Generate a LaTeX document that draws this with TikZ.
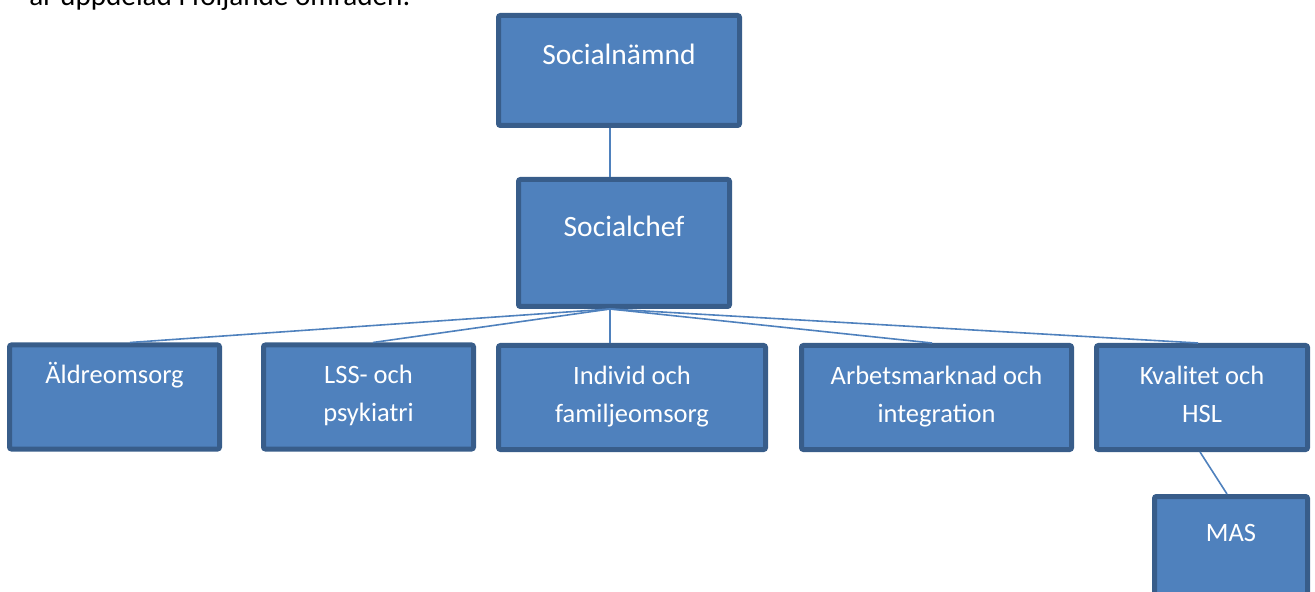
\documentclass[tikz,border=0pt]{standalone}
\usepackage{fontspec}
\setmainfont{Carlito}
\definecolor{boxfill}{HTML}{4F81BD}
\definecolor{boxline}{HTML}{385D8A}
% box text: width, height, first baseline, text
\newcommand{\orgtext}[4]{\parbox[c][#2][t]{#1}{\centering\rule{0pt}{#3}#4\par}}

\begin{document}
\begin{tikzpicture}[x=0.5pt,y=-0.5pt,
  orgbox/.style={draw=boxline, fill=boxfill, line width=2.5pt, rounded corners=1pt, inner sep=0pt, text=white},
  bigfont/.style={font=\fontsize{14.75}{19}\selectfont},
  smallfont/.style={font=\fontsize{13.25}{19}\selectfont},
  link/.style={draw=boxfill, line width=0.8pt}]

\useasboundingbox (0,0) rectangle (1315,592);
\clip (0,0) rectangle (1315,592);

% line of text above the chart
\node[anchor=base west, inner sep=0pt, font=\fontsize{14.6}{18}\selectfont] (intro) at (29,6) {är uppdelad i följande områden:};

% top of the chart
\node[orgbox, bigfont] (soc) at (619,70.5) {\orgtext{120.5pt}{55pt}{24.75pt}{Socialnämnd}};
\node[orgbox, bigfont] (chef) at (624,243) {\orgtext{105.5pt}{63.5pt}{28.75pt}{Socialchef}};

% the five areas
\node[orgbox, smallfont] (aldre) at (114.5,397) {\orgtext{105pt}{52pt}{19pt}{Äldreomsorg}};
\node[orgbox, smallfont] (lss) at (368.5,397) {\orgtext{105pt}{52pt}{19pt}{LSS- och\\psykiatri}};
\node[orgbox, smallfont] (indiv) at (632,397.5) {\orgtext{133.5pt}{52pt}{19.25pt}{Individ och\\familjeomsorg}};
\node[orgbox, smallfont] (arbets) at (936.5,397.5) {\orgtext{135pt}{52pt}{19.25pt}{Arbetsmarknad och\\integration}};
\node[orgbox, smallfont] (kval) at (1202,397.5) {\orgtext{105.5pt}{52pt}{19.25pt}{Kvalitet och\\HSL}};

% under Kvalitet och HSL
\node[orgbox, smallfont] (mas) at (1231,548.5) {\orgtext{76.5pt}{52pt}{22.25pt}{MAS}};

% connectors
\draw[link] ([xshift=-4.5pt]soc.south) -- ([xshift=-7pt]chef.north);
\coordinate (hub) at ([xshift=-7pt]chef.south);
\draw[link] (hub) -- ([xshift=7.75pt]aldre.north);
\draw[link] (hub) -- ([xshift=2.25pt]lss.north);
\draw[link] (hub) -- ([xshift=-11pt]indiv.north);
\draw[link] (hub) -- ([xshift=-2.25pt]arbets.north);
\draw[link] (hub) -- ([xshift=-2pt]kval.north);
\draw[link] ([xshift=-1pt]kval.south) -- ([xshift=-2pt]mas.north);

\end{tikzpicture}
\end{document}
